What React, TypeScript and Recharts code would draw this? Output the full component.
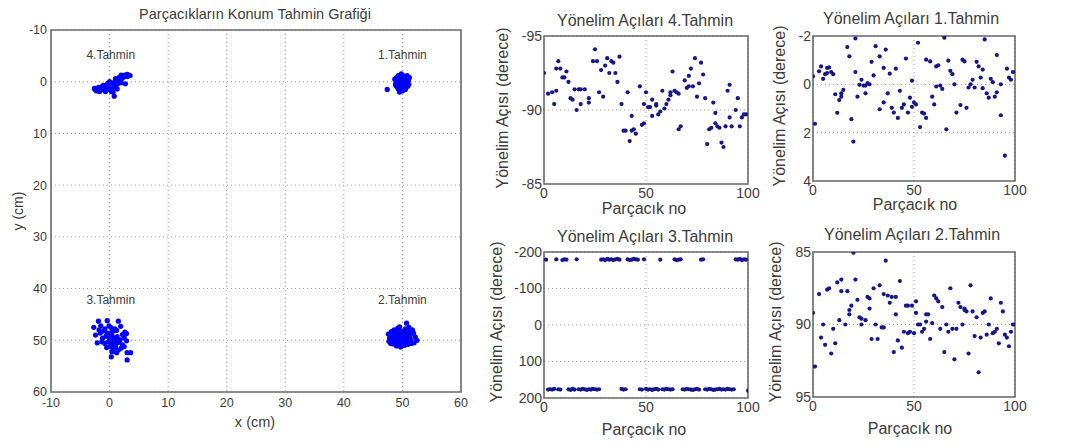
import type { ReactNode } from "react";
import {
  CartesianGrid,
  ReferenceArea,
  ReferenceDot,
  Scatter,
  ScatterChart,
  XAxis,
  YAxis,
} from "recharts";

type Pair = [number, number];

const FONT = '"Liberation Sans", Arial, sans-serif';
const INK = "#3c3c3c";
const FRAME = "#6a6a6a";
const GRID = "#9c9c9c";
const BLUE = "#0000ff";
const NAVY = "#16168c";

// konum tahminleri (x cm, y cm)
const CLUSTER_4: Pair[] = [
  [-2.4, 1.6], [-2.2, 1.8], [-2.0, 1.4], [-1.8, 1.7], [-1.6, 1.2], [-1.5, 1.6], [-1.3, 1.0],
  [-1.2, 1.5], [-1.0, 1.3], [-0.9, 0.8], [-0.8, 1.6], [-0.6, 1.1], [-0.5, 0.6], [-0.4, 1.4],
  [-0.2, 0.9], [0.0, 1.2], [0.1, 0.5], [0.2, 1.6], [0.3, 0.8], [0.4, 0.2], [0.5, 1.1],
  [0.6, 2.0], [0.8, 0.6], [0.8, 2.8], [0.9, 0.1], [1.0, 1.0], [1.1, -0.2], [1.2, 0.5],
  [1.4, -0.5], [1.5, 0.3], [1.6, -0.8], [1.8, -0.3], [1.9, -1.1], [2.0, 0.2], [2.1, -0.6],
  [2.3, -1.2], [2.4, -0.9], [2.6, -1.3], [2.7, 0.4], [2.8, -1.1], [3.0, -1.4], [3.1, -1.0],
  [3.3, -1.3], [3.5, -1.2], [-2.6, 1.3], [-1.9, 1.1], [-1.1, 0.7], [-0.3, 0.3], [0.3, 1.9],
  [1.3, 1.4], [-1.7, 1.9], [-0.7, 1.9], [0.0, 0.0], [2.0, -1.3], [1.0, -0.6],
];

const CLUSTER_1: Pair[] = [
  [49.0, -0.8], [49.3, -1.2], [49.6, -0.9], [50.0, -1.3], [50.4, -1.0], [50.8, -1.2],
  [49.1, -0.3], [49.5, -0.2], [49.9, -0.5], [50.3, -0.4], [50.7, -0.6], [51.0, -0.2],
  [48.9, 0.2], [49.2, 0.4], [49.6, 0.1], [50.0, 0.3], [50.4, 0.0], [50.8, 0.4], [51.1, 0.5],
  [49.0, 0.9], [49.4, 0.8], [49.8, 1.0], [50.2, 0.7], [50.6, 1.0], [50.9, 0.9], [49.3, 1.4],
  [49.7, 1.5], [50.1, 1.3], [50.5, 1.5], [49.5, 2.0], [47.4, 1.5], [48.7, -0.5], [48.8, 0.6],
  [49.8, -1.5], [50.5, -0.1], [49.2, 1.1], [50.0, 1.8], [51.2, -0.8], [50.2, -0.8], [49.7, 0.6],
];

const CLUSTER_3: Pair[] = [
  [-1.9, 46.3], [-0.4, 46.2], [1.5, 46.3], [-2.7, 47.5], [-1.5, 47.2], [-0.8, 47.8], [0.2, 47.5],
  [1.9, 47.3], [2.6, 48.4], [-2.4, 49.0], [-1.6, 48.6], [-1.0, 48.2], [-0.3, 48.6], [0.5, 48.3],
  [1.2, 48.1], [2.2, 48.9], [2.9, 48.7], [-2.1, 50.5], [-1.2, 49.6], [-0.6, 49.2], [0.0, 49.8],
  [0.4, 49.1], [0.8, 49.6], [1.3, 49.3], [1.8, 49.9], [2.9, 50.1], [-0.8, 50.6], [-0.2, 50.3],
  [0.3, 50.8], [0.7, 50.2], [1.1, 50.7], [1.6, 50.4], [2.2, 50.9], [-0.5, 51.4], [0.1, 51.2],
  [0.6, 51.7], [1.0, 51.3], [1.5, 51.9], [2.0, 51.5], [0.4, 52.2], [1.2, 52.4], [0.3, 53.2],
  [3.0, 52.4], [3.6, 52.4], [3.0, 53.8], [2.5, 51.2], [-1.3, 50.3], [0.9, 50.9], [0.2, 49.4],
  [1.4, 50.1], [-0.1, 47.2], [0.9, 47.8], [-1.8, 48.0], [2.5, 49.5],
];

const CLUSTER_2: Pair[] = [
  [47.6, 48.8], [47.8, 49.6], [47.7, 50.2], [48.1, 48.3], [48.2, 49.1], [48.3, 50.0], [48.4, 50.7],
  [48.6, 48.0], [48.7, 48.8], [48.8, 49.5], [48.9, 50.3], [49.0, 51.1], [49.2, 47.7], [49.3, 48.5],
  [49.4, 49.2], [49.5, 49.9], [49.6, 50.6], [49.7, 51.3], [49.9, 48.2], [50.0, 49.0], [50.1, 49.7],
  [50.2, 50.4], [50.3, 51.0], [50.5, 47.8], [50.6, 48.6], [50.7, 49.3], [50.8, 50.1], [50.9, 50.8],
  [50.7, 46.7], [51.1, 47.5], [51.2, 48.4], [51.3, 49.1], [51.4, 49.9], [51.5, 50.6], [51.7, 48.0],
  [51.9, 48.6], [52.2, 49.4], [52.5, 50.0], [52.0, 50.5], [51.0, 49.6], [49.8, 50.9], [48.5, 49.3],
  [49.1, 50.0], [50.4, 48.9], [48.0, 50.6], [49.5, 47.4],
];

// yönelim açıları (parçacık no, derece)
const ANGLE_4: Pair[] = [
  [0, -92.5], [2, -91.1], [4, -91.2], [5, -90.4], [6, -91.3], [6, -92.8], [7, -93.3], [8, -92.8],
  [9, -92.2], [10, -92.2], [11, -92.6], [12, -91.9], [13, -90.8], [14, -90.7], [16, -90.0],
  [15, -91.4], [17, -91.4], [18, -90.4], [18, -91.4], [20, -91.4], [22, -90.8], [22, -90.5],
  [24, -93.3], [25, -94.1], [26, -93.3], [27, -91.2], [28, -92.7], [29, -90.9], [30, -93.0],
  [31, -93.5], [32, -92.5], [33, -93.3], [34, -93.2], [35, -92.5], [36, -91.9], [37, -93.6],
  [38, -90.4], [39, -88.6], [40, -88.6], [41, -91.2], [42, -87.9], [43, -88.6], [43, -89.6],
  [44, -88.7], [45, -88.4], [47, -91.6], [48, -89.0], [49, -90.4], [49, -89.1], [50, -91.2],
  [51, -90.2], [52, -90.2], [53, -90.7], [53, -89.6], [55, -90.3], [55, -90.4], [56, -89.7],
  [57, -89.9], [58, -91.3], [59, -90.1], [60, -90.4], [61, -90.7], [62, -91.0], [62, -91.2],
  [63, -92.6], [64, -91.3], [65, -91.2], [66, -91.1], [66, -88.7], [67, -88.9], [69, -92.0],
  [70, -91.5], [71, -92.3], [71, -91.6], [72, -92.8], [73, -91.6], [74, -93.5], [75, -90.9],
  [76, -91.8], [77, -93.2], [78, -92.4], [79, -90.8], [80, -87.7], [81, -88.7], [82, -88.8],
  [83, -90.5], [84, -89.8], [84, -89.1], [85, -88.9], [86, -88.8], [87, -87.8], [88, -87.5],
  [89, -88.9], [90, -91.3], [91, -91.7], [91, -89.5], [92, -88.9], [94, -90.0], [95, -90.8],
  [96, -88.9], [97, -89.5], [98, -89.7], [99, -89.7],
];

const ANGLE_1: Pair[] = [
  [0, -0.33], [1, 1.63], [3, -0.54], [4, -0.74], [5, -0.23], [6, -0.42], [7, -0.68], [7, -0.47],
  [8, -0.7], [9, -0.51], [10, -0.42], [11, 0.41], [12, 1.18], [13, 0.65], [14, 0.51], [14, 0.37],
  [15, 0.23], [17, -1.54], [18, -1.16], [19, 1.44], [20, 2.37], [21, -1.9], [21, -0.51], [22, 0.51],
  [23, 0.02], [24, -0.19], [25, 0.05], [26, 0.05], [26, 0.37], [27, -0.05], [28, 0.0], [29, -0.93],
  [30, -0.37], [31, -1.58], [33, 1.03], [33, -1.16], [35, 0.75], [35, -0.68], [36, -1.44],
  [37, 0.37], [38, -0.44], [39, 0.97], [40, 1.17], [41, -0.65], [42, 1.39], [43, 0.27], [44, 0.97],
  [45, 0.83], [46, -1.07], [47, 1.17], [48, 0.55], [49, 0.93], [49, -0.15], [50, 0.75], [51, 0.83],
  [52, -1.72], [53, 1.77], [54, 1.17], [55, 1.21], [56, 1.39], [56, -1.02], [58, -0.95], [59, 0.51],
  [60, 0.83], [61, 0.09], [61, -0.74], [62, -0.79], [63, 0.05], [64, 0.19], [65, -1.93], [66, 1.86],
  [67, -0.98], [68, -0.56], [69, -0.42], [70, 0.0], [71, 1.17], [73, 0.86], [74, -1.02], [75, -0.95],
  [76, 0.97], [77, 0.13], [78, 0.0], [79, -0.19], [80, 0.13], [81, -0.93], [82, -0.74], [83, -0.28],
  [84, -0.61], [84, 0.16], [85, -1.86], [86, 0.37], [87, 0.55], [88, -0.23], [89, -0.09], [90, 0.51],
  [91, 0.33], [91, -1.21], [93, 1.28], [93, 0.0], [95, 2.95], [96, -0.65], [97, -0.28], [98, -0.19],
  [99, -0.51],
];

// 3. tahmin: parçacık 1..100 sırasıyla
const ANGLE_3: number[] = [
  -179, 177, 176, 177, 175, -180, 176, 177, -178, -180,
  -179, 176, 178, 175, 177, -180, 176, 177, 175, 176,
  178, 176, 177, 175, 176, 177, 176, -179, -180, -178,
  -181, -179, -180, -178, -180, -181, -179, 175, 177, 176,
  -180, -178, -179, -181, -180, -179, 176, 177, -180, 175,
  177, 176, 178, 176, 175, 177, -179, 176, 177, 175,
  176, 177, 176, -180, -178, -179, -180, 176, 177, 175,
  176, 177, 178, 176, 175, 177, -179, -180, 176, 177,
  175, 176, 178, 177, 176, 175, 177, 176, 177, 175,
  176, 177, 176, -180, -179, -181, -178, -180, -179, 180,
];

const ANGLE_2: Pair[] = [
  [0, 89.2], [1, 92.9], [3, 87.9], [4, 90.9], [5, 90.0], [6, 91.4], [7, 87.6], [8, 87.5], [9, 92.0],
  [10, 90.3], [11, 91.3], [12, 87.1], [13, 89.7], [14, 87.7], [14, 86.9], [16, 90.0], [17, 87.7],
  [18, 89.0], [18, 89.3], [19, 88.7], [20, 85.05], [21, 86.9], [22, 88.3], [23, 89.5], [24, 89.6],
  [24, 90.0], [26, 89.7], [27, 88.1], [28, 88.2], [28, 88.9], [29, 91.0], [30, 87.5], [31, 90.0],
  [32, 91.0], [33, 87.3], [34, 90.2], [35, 90.2], [35, 87.9], [36, 85.6], [37, 88.0], [38, 88.5],
  [39, 88.1], [40, 91.9], [41, 88.1], [41, 89.3], [42, 91.1], [43, 87.0], [44, 91.6], [45, 90.5],
  [46, 88.7], [47, 90.6], [47, 88.7], [48, 90.5], [49, 88.7], [50, 90.6], [51, 89.2], [51, 88.4],
  [52, 90.0], [53, 90.0], [54, 90.5], [55, 90.3], [56, 89.3], [56, 89.8], [57, 89.3], [58, 91.0],
  [59, 89.9], [60, 88.0], [61, 88.2], [62, 88.4], [63, 90.3], [64, 88.8], [65, 91.9], [66, 90.0],
  [67, 90.5], [68, 87.5], [69, 90.3], [70, 92.4], [71, 90.3], [72, 88.5], [73, 88.8], [74, 90.0],
  [75, 89.0], [75, 88.9], [76, 89.1], [77, 92.0], [78, 87.3], [79, 89.1], [80, 90.8], [81, 89.5],
  [82, 93.3], [83, 90.9], [84, 89.2], [85, 89.1], [86, 90.7], [87, 90.0], [88, 88.2], [89, 90.6],
  [90, 90.5], [91, 90.3], [92, 91.3], [93, 88.5], [94, 89.1], [95, 90.7], [96, 90.9], [97, 91.5],
  [98, 90.5], [99, 90.0], [100, 90.0],
];

const POS_TICKS = [-10, 0, 10, 20, 30, 40, 50, 60];
const NO_TICKS = [0, 50, 100];

const YW = 46;
const XH = 30;
const PAD = 12;
const PAD_R = 22;

const toPoints = (pairs: Pair[]) => pairs.map(([x, y]) => ({ x, y }));

function Txt({
  x,
  y,
  size,
  rotate,
  children,
}: {
  x: number;
  y: number;
  size: number;
  rotate?: boolean;
  children: ReactNode;
}) {
  return (
    <div
      style={{
        position: "absolute",
        left: x,
        top: y,
        transform: `translate(-50%, -50%)${rotate ? " rotate(-90deg)" : ""}`,
        fontFamily: FONT,
        fontSize: size,
        color: INK,
        whiteSpace: "nowrap",
        lineHeight: 1,
      }}
    >
      {children}
    </div>
  );
}

function Panel({
  box,
  xDomain,
  xTicks,
  yDomain,
  yTicks,
  data,
  color,
  r,
  fontSize,
  gap,
  children,
}: {
  box: [number, number, number, number];
  xDomain: [number, number];
  xTicks: number[];
  yDomain: [number, number];
  yTicks: number[];
  data: { x: number; y: number }[][];
  color: string;
  r: number;
  fontSize: number;
  gap: number;
  children?: ReactNode;
}) {
  const [l, t, rt, b] = box;
  const tick = { fontSize, fill: INK, fontFamily: FONT };
  return (
    <div style={{ position: "absolute", left: l - YW, top: t - PAD }}>
      <ScatterChart
        width={rt - l + YW + PAD_R}
        height={b - t + PAD + XH}
        margin={{ top: PAD, right: PAD_R, bottom: 0, left: 0 }}
      >
        <CartesianGrid stroke={GRID} strokeDasharray="1 3" />
        <XAxis
          type="number"
          dataKey="x"
          domain={xDomain}
          ticks={xTicks}
          interval={0}
          allowDataOverflow
          height={XH}
          tickLine={false}
          tickSize={gap}
          tickMargin={gap}
          axisLine={false}
          tick={tick}
        />
        <YAxis
          type="number"
          dataKey="y"
          domain={yDomain}
          ticks={yTicks}
          interval={0}
          reversed
          allowDataOverflow
          width={YW}
          tickLine={false}
          tickSize={gap - 1}
          tickMargin={gap - 1}
          axisLine={false}
          tick={tick}
        />
        <ReferenceArea
          x1={xDomain[0]}
          x2={xDomain[1]}
          y1={yDomain[0]}
          y2={yDomain[1]}
          fill="none"
          stroke={FRAME}
          strokeWidth={1.6}
          ifOverflow="visible"
        />
        {data.map((pts, i) => (
          <Scatter
            key={i}
            data={pts}
            isAnimationActive={false}
            shape={(p: { cx?: number; cy?: number }) => (
              <circle cx={p.cx} cy={p.cy} r={r} fill={color} />
            )}
          />
        ))}
        {children}
      </ScatterChart>
    </div>
  );
}

const tag = (x: number, y: number, text: string) => (
  <ReferenceDot
    key={text}
    x={x}
    y={y}
    r={0}
    fill="none"
    stroke="none"
    ifOverflow="visible"
    label={{ value: text, position: "center", fill: INK, fontSize: 12, fontFamily: FONT }}
  />
);

export default function App() {
  return (
    <div
      style={{
        position: "absolute",
        left: 0,
        top: 0,
        width: 1067,
        height: 448,
        background: "#fff",
        overflow: "hidden",
      }}
    >
      {/* konum grafiği */}
      <Txt x={255} y={14} size={14.5}>Parçacıkların Konum Tahmin Grafiği</Txt>
      <Panel
        box={[51, 30, 461, 392]}
        xDomain={[-10, 60]}
        xTicks={POS_TICKS}
        yDomain={[-10, 60]}
        yTicks={POS_TICKS}
        data={[CLUSTER_4, CLUSTER_1, CLUSTER_3, CLUSTER_2].map(toPoints)}
        color={BLUE}
        r={2.6}
        fontSize={12.5}
        gap={3}
      >
        {tag(0.2, -5.2, "4.Tahmin")}
        {tag(50, -5.2, "1.Tahmin")}
        {tag(0.2, 42.2, "3.Tahmin")}
        {tag(50, 42.2, "2.Tahmin")}
      </Panel>
      <Txt x={255} y={422} size={14.5}>x (cm)</Txt>
      <Txt x={18} y={211} size={14} rotate>y (cm)</Txt>

      {/* yönelim açıları */}
      <Txt x={645} y={21} size={16}>Yönelim Açıları 4.Tahmin</Txt>
      <Panel
        box={[544, 36, 748, 184]}
        xDomain={[0, 100]}
        xTicks={NO_TICKS}
        yDomain={[-95, -85]}
        yTicks={[-95, -90, -85]}
        data={[toPoints(ANGLE_4)]}
        color={NAVY}
        r={2.1}
        fontSize={14}
        gap={2}
      />
      <Txt x={644} y={209} size={16}>Parçacık no</Txt>
      <Txt x={503} y={108} size={16} rotate>Yönelim Açısı (derece)</Txt>

      <Txt x={911} y={19} size={16}>Yönelim Açıları 1.Tahmin</Txt>
      <Panel
        box={[813, 36, 1015, 181]}
        xDomain={[0, 100]}
        xTicks={NO_TICKS}
        yDomain={[-2, 4]}
        yTicks={[-2, 0, 2, 4]}
        data={[toPoints(ANGLE_1)]}
        color={NAVY}
        r={2.1}
        fontSize={14}
        gap={2}
      />
      <Txt x={915} y={205} size={16}>Parçacık no</Txt>
      <Txt x={780} y={106} size={16} rotate>Yönelim Açısı (derece)</Txt>

      <Txt x={645} y={237} size={16}>Yönelim Açıları 3.Tahmin</Txt>
      <Panel
        box={[544, 252, 748, 398]}
        xDomain={[0, 100]}
        xTicks={NO_TICKS}
        yDomain={[-200, 200]}
        yTicks={[-200, -100, 0, 100, 200]}
        data={[ANGLE_3.map((deg, i) => ({ x: i + 1, y: deg }))]}
        color={NAVY}
        r={2.1}
        fontSize={14}
        gap={2}
      />
      <Txt x={644} y={430} size={16}>Parçacık no</Txt>
      <Txt x={497} y={322} size={16} rotate>Yönelim Açısı (derece)</Txt>

      <Txt x={912} y={235} size={16}>Yönelim Açıları 2.Tahmin</Txt>
      <Panel
        box={[813, 252, 1015, 397]}
        xDomain={[0, 100]}
        xTicks={NO_TICKS}
        yDomain={[85, 95]}
        yTicks={[85, 90, 95]}
        data={[toPoints(ANGLE_2)]}
        color={NAVY}
        r={2.1}
        fontSize={14}
        gap={2}
      />
      <Txt x={910} y={429} size={16}>Parçacık no</Txt>
      <Txt x={776} y={322} size={16} rotate>Yönelim Açısı (derece)</Txt>
    </div>
  );
}
